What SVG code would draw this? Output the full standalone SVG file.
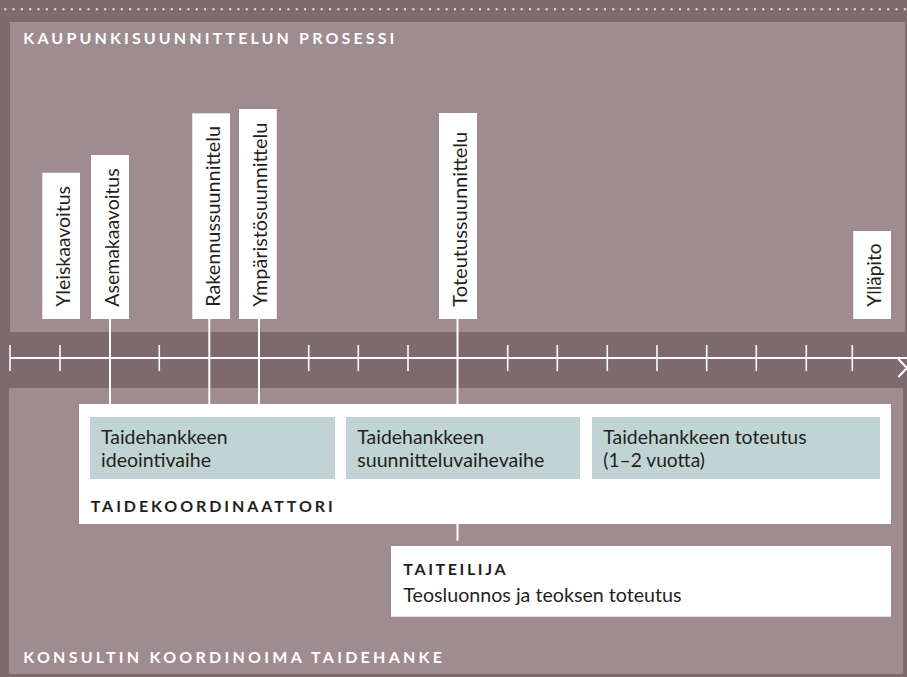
<svg xmlns="http://www.w3.org/2000/svg" width="907" height="677" viewBox="0 0 907 677">
<style>
.bg{fill:#7d6a6e}
.panel{fill:#9e8c90}
.wbox{fill:#ffffff}
.teal{fill:#c0d5d3}
.lbl{font-family:Lato,"Liberation Sans",sans-serif;font-size:19px;fill:#231f20}
.hd{font-family:Lato,"Liberation Sans",sans-serif;font-size:16px;font-weight:700;fill:#ffffff}
.hdk{font-family:Lato,"Liberation Sans",sans-serif;font-size:16px;font-weight:700;fill:#231f20}
.ln{stroke:#ffffff;stroke-width:2;fill:none}
.tick{stroke:#ffffff;stroke-width:1.6}
.dots{stroke:#ece4e6;stroke-width:2;stroke-dasharray:2 6.33}
</style>
<rect class="bg" x="0" y="0" width="907" height="677"/>
<line class="dots" x1="4.2" y1="9.3" x2="907" y2="9.3"/>
<g id="panel-process">
<rect class="panel" x="10" y="22" width="895" height="310"/>
<text class="hd" x="23.3" y="44.3" textLength="371" lengthAdjust="spacing">KAUPUNKISUUNNITTELUN PROSESSI</text>
</g>
<g id="panel-project">
<rect class="panel" x="9" y="388" width="894" height="286"/>
<text class="hd" x="23.3" y="663.3" textLength="418.7" lengthAdjust="spacing">KONSULTIN KOORDINOIMA TAIDEHANKE</text>
</g>
<g id="timeline">
<line class="ln" x1="10" y1="358" x2="907" y2="358"/>
<g class="tick">
<line x1="10" y1="345" x2="10" y2="371"/>
<line x1="60" y1="345" x2="60" y2="371"/>
<line x1="159.3" y1="345" x2="159.3" y2="371"/>
<line x1="308.7" y1="345" x2="308.7" y2="371"/>
<line x1="358.3" y1="345" x2="358.3" y2="371"/>
<line x1="408" y1="345" x2="408" y2="371"/>
<line x1="507.7" y1="345" x2="507.7" y2="371"/>
<line x1="557.3" y1="345" x2="557.3" y2="371"/>
<line x1="607.3" y1="345" x2="607.3" y2="371"/>
<line x1="657" y1="345" x2="657" y2="371"/>
<line x1="706.7" y1="345" x2="706.7" y2="371"/>
<line x1="756.3" y1="345" x2="756.3" y2="371"/>
<line x1="806.3" y1="345" x2="806.3" y2="371"/>
<line x1="852.3" y1="345" x2="852.3" y2="371"/>
</g>
<polyline class="ln" points="898.3,359 907,368 898.3,377"/>
</g>
<g id="connectors">
<line class="ln" x1="110" y1="319" x2="110" y2="404"/>
<line class="ln" x1="209.3" y1="319" x2="209.3" y2="404"/>
<line class="ln" x1="259" y1="319" x2="259" y2="404"/>
<line class="ln" x1="457.5" y1="319" x2="457.5" y2="404"/>
<line class="ln" x1="457.5" y1="524" x2="457.5" y2="540.7"/>
</g>
<g id="n-yleiskaavoitus">
<rect class="wbox" x="42.3" y="172.7" width="37.7" height="146.3"/>
<text class="lbl" transform="translate(69.8,306.7) rotate(-90)" textLength="120.7" lengthAdjust="spacingAndGlyphs">Yleiskaavoitus</text>
</g>
<g id="n-asemakaavoitus">
<rect class="wbox" x="91" y="155" width="38" height="164"/>
<text class="lbl" transform="translate(118.5,306.7) rotate(-90)" textLength="138.3" lengthAdjust="spacingAndGlyphs">Asemakaavoitus</text>
</g>
<g id="n-rakennussuunnittelu">
<rect class="wbox" x="192.3" y="113.3" width="37.7" height="205.7"/>
<text class="lbl" transform="translate(219.8,306.7) rotate(-90)" textLength="180.7" lengthAdjust="spacingAndGlyphs">Rakennussuunnittelu</text>
</g>
<g id="n-ymparistosuunnittelu">
<rect class="wbox" x="239" y="109" width="37.7" height="210"/>
<text class="lbl" transform="translate(266.5,306.7) rotate(-90)" textLength="184" lengthAdjust="spacingAndGlyphs">Ympäristösuunnittelu</text>
</g>
<g id="n-toteutussuunnittelu">
<rect class="wbox" x="439" y="113" width="38" height="206"/>
<text class="lbl" transform="translate(466.5,306.7) rotate(-90)" textLength="175" lengthAdjust="spacingAndGlyphs">Toteutussuunnittelu</text>
</g>
<g id="n-yllapito">
<rect class="wbox" x="853.3" y="231" width="37.7" height="88"/>
<text class="lbl" transform="translate(880.8,306.7) rotate(-90)" textLength="63.3" lengthAdjust="spacingAndGlyphs">Ylläpito</text>
</g>
<g id="n-taidekoordinaattori">
<rect class="wbox" x="79" y="404" width="812" height="120"/>
<text class="hdk" x="90.7" y="511.7" textLength="242" lengthAdjust="spacing">TAIDEKOORDINAATTORI</text>
</g>
<g id="n-ideointivaihe">
<rect class="teal" x="90" y="417" width="245" height="62"/>
<text class="lbl" x="101" y="444" textLength="126.7" lengthAdjust="spacingAndGlyphs">Taidehankkeen</text>
<text class="lbl" x="101" y="467.3" textLength="110" lengthAdjust="spacingAndGlyphs">ideointivaihe</text>
</g>
<g id="n-suunnitteluvaihe">
<rect class="teal" x="346" y="417" width="234" height="62"/>
<text class="lbl" x="357.3" y="444" textLength="126.7" lengthAdjust="spacingAndGlyphs">Taidehankkeen</text>
<text class="lbl" x="357.3" y="467.3" textLength="187" lengthAdjust="spacingAndGlyphs">suunnitteluvaihevaihe</text>
</g>
<g id="n-toteutus">
<rect class="teal" x="592" y="417" width="288" height="62"/>
<text class="lbl" x="603.3" y="444" textLength="203.3" lengthAdjust="spacingAndGlyphs">Taidehankkeen toteutus</text>
<text class="lbl" x="603.3" y="467.3" textLength="101.7" lengthAdjust="spacingAndGlyphs">(1–2 vuotta)</text>
</g>
<g id="n-taiteilija">
<rect class="wbox" x="391" y="546" width="500" height="70.7"/>
<text class="hdk" x="403.3" y="575" textLength="102.3" lengthAdjust="spacing">TAITEILIJA</text>
<text class="lbl" x="403.3" y="601.7" textLength="278.3" lengthAdjust="spacingAndGlyphs">Teosluonnos ja teoksen toteutus</text>
</g>
</svg>
